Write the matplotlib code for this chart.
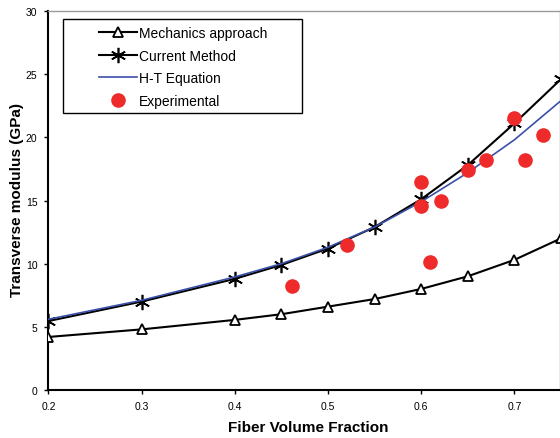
import matplotlib.pyplot as plt
from matplotlib.patches import Rectangle

plt.rcParams['font.family'] = ['Liberation Sans', 'DejaVu Sans']

vf = [0.2, 0.3, 0.4, 0.45, 0.5, 0.55, 0.6, 0.65, 0.7, 0.75]
mechanics = [4.2, 4.8, 5.55, 6.0, 6.6, 7.2, 8.0, 9.0, 10.3, 12.0]
current = [5.46, 7.0, 8.8, 9.9, 11.2, 12.9, 15.1, 17.8, 21.1, 24.6]
ht_eq = [5.6, 7.1, 8.95, 10.0, 11.3, 12.9, 14.9, 17.2, 19.8, 22.9]

exp_vf = [0.461, 0.52, 0.60, 0.60, 0.61, 0.621, 0.65, 0.67, 0.70, 0.711, 0.731]
exp_e = [8.2, 11.5, 16.5, 14.6, 10.1, 15.0, 17.4, 18.2, 21.5, 18.2, 20.2]

W, H = 560, 439
fig = plt.figure(figsize=(W / 100, H / 100), dpi=100)
ax = fig.add_axes([0.0866, 0.1093, 0.9134, 0.8634])

ax.plot(vf, mechanics, color='black', lw=1.5, marker='^', ms=7,
        mfc='white', mec='black', mew=1.3, label='Mechanics approach', zorder=3)
ax.plot(vf, current, color='black', lw=1.5, marker=(6, 2, 0), ms=11,
        mew=1.2, label='Current Method', zorder=3)
ax.plot(vf, ht_eq, color='#3a50a8', lw=1.2, label='H-T Equation', zorder=4)
ax.plot(exp_vf, exp_e, ls='none', marker='o', ms=9.5, color='#ee2a2a',
        label='Experimental', zorder=5)

ax.set_xlim(0.2, 0.749)
ax.set_ylim(0, 30)
ax.set_xticks([0.2, 0.3, 0.4, 0.5, 0.6, 0.7])
ax.set_xticklabels(['0.2', '0.3', '0.4', '0.5', '0.6', '0.7'])
ax.set_yticks(range(0, 31, 5))
ax.tick_params(labelsize=7.5, length=3, width=1, direction='out', pad=5)

for s in ['left', 'bottom']:
    ax.spines[s].set_linewidth(1.5)
for s in ['top', 'right']:
    ax.spines[s].set_color('#999999')
    ax.spines[s].set_linewidth(1)

ax.set_xlabel('Fiber Volume Fraction', fontsize=11, fontweight='bold')
ax.xaxis.set_label_coords((308 - 48.5) / 511.5, -(428 - 391) / 379.0)
ax.xaxis.label.set_va('center')
ax.set_ylabel('Transverse modulus (GPa)', fontsize=11, fontweight='bold')
ax.yaxis.set_label_coords(-(48.5 - 17) / 511.5, (391 - 200) / 379.0)
ax.yaxis.label.set_va('center')

# legend (no frame) plus its box drawn in figure pixels
leg = ax.legend(loc='upper left', bbox_to_anchor=(99 / W, 1 - 27 / H),
                bbox_transform=fig.transFigure, fontsize=10, frameon=False,
                handlelength=2.7, borderpad=0.0, labelspacing=0.62,
                borderaxespad=0.0, handletextpad=0.2)
fig.patches.append(Rectangle((63 / W, 1 - 114 / H), 239 / W, 94 / H,
                             transform=fig.transFigure, fill=False,
                             edgecolor='black', lw=1.0, zorder=10))

fig.savefig('out.png', dpi=100)
